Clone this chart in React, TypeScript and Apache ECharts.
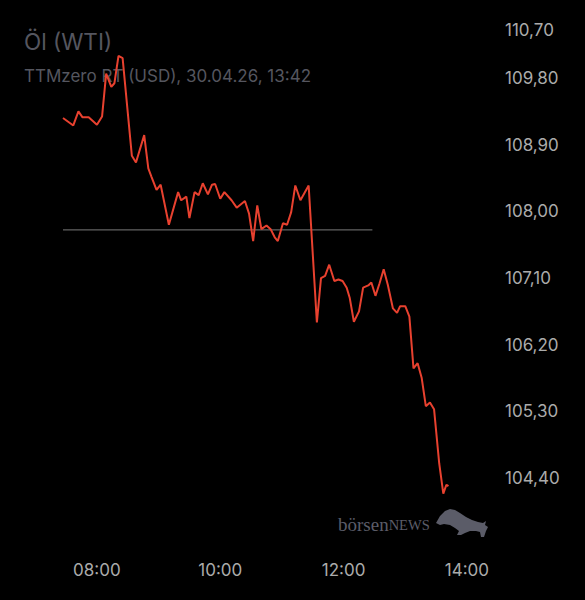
import React, { useEffect, useRef } from "react";
import * as echarts from "echarts";

const times = [
  "07:27", "07:37", "07:42", "07:46", "07:52", "08:00", "08:05", "08:09", "08:14", "08:17",
  "08:21", "08:25", "08:34", "08:38", "08:46", "08:50", "08:53", "08:58", "09:02", "09:10",
  "09:19", "09:22", "09:27", "09:30", "09:35", "09:39", "09:43", "09:48", "09:52", "09:55",
  "10:00", "10:04", "10:11", "10:16", "10:24", "10:28", "10:32", "10:36", "10:40", "10:45",
  "10:49", "10:53", "10:56", "11:01", "11:05", "11:09", "11:13", "11:18", "11:26", "11:34",
  "11:38", "11:42", "11:46", "11:51", "11:55", "11:59", "12:03", "12:06", "12:10", "12:15",
  "12:19", "12:24", "12:27", "12:31", "12:35", "12:39", "12:43", "12:48", "12:52", "12:55",
  "13:00", "13:04", "13:08", "13:12", "13:16", "13:20", "13:24", "13:28", "13:33", "13:37",
  "13:40", "13:42",
];
const prices = [
  109.26, 109.16, 109.35, 109.27, 109.27, 109.17, 109.28, 109.86, 109.68, 109.73,
  110.10, 110.07, 108.75, 108.66, 109.03, 108.58, 108.47, 108.29, 108.36, 107.82,
  108.26, 108.15, 108.20, 107.91, 108.26, 108.22, 108.38, 108.23, 108.36, 108.37,
  108.17, 108.26, 108.15, 108.05, 108.14, 107.97, 107.60, 108.08, 107.76, 107.81,
  107.76, 107.65, 107.60, 107.84, 107.82, 107.99, 108.35, 108.15, 108.35, 106.50,
  107.10, 107.13, 107.28, 107.06, 107.08, 107.06, 106.97, 106.83, 106.51, 106.65,
  106.97, 107.00, 107.04, 106.86, 107.03, 107.22, 107.01, 106.69, 106.63, 106.72,
  106.72, 106.58, 105.88, 105.95, 105.75, 105.37, 105.42, 105.33, 104.60, 104.19,
  104.31, 104.29,
];
const referencePrice = 107.75;
const referenceRange = ["07:27", "12:28"];
const xTickLabels = ["08:00", "10:00", "12:00", "14:00"];
const yTickValues = [104.4, 105.3, 106.2, 107.1, 108.0, 108.9, 109.8, 110.7];
const titleText = "Öl (WTI)";
const subtitleText = "TTMzero RT (USD), 30.04.26, 13:42";

const toMin = (s: string) => {
  const [h, m] = s.split(":").map(Number);
  return h * 60 + m;
};
const fmtTime = (v: number) => {
  const h = Math.floor(v / 60);
  const m = Math.round(v % 60);
  return String(h).padStart(2, "0") + ":" + String(m).padStart(2, "0");
};
const fmtPrice = (v: number) => v.toFixed(2).replace(".", ",");

const FONT = "Inter, 'Noto Sans', sans-serif";
const LABEL_COLOR = "#ababab";
const DIM = "#55565f";

export default function App() {
  const ref = useRef<HTMLDivElement>(null);
  useEffect(() => {
    if (!ref.current) return;
    document.body.style.margin = "0";
    document.body.style.background = "#000";
    const chart = echarts.init(ref.current, undefined, { renderer: "svg" });
    const lineData = times.map((t, i) => [toMin(t), prices[i]]);
    const refData = referenceRange.map((t) => [toMin(t), referencePrice]);
    const yMin = 103.5;
    const yMax = yTickValues[yTickValues.length - 1];
    chart.setOption({
      animation: false,
      backgroundColor: "#000000",
      textStyle: { fontFamily: FONT },
      grid: { left: 63, top: 11.4, width: 432, height: 533.3 },
      xAxis: {
        type: "value",
        min: 447,
        max: 867.3,
        axisLine: { show: false },
        axisTick: { show: false },
        splitLine: { show: false },
        axisLabel: {
          customValues: xTickLabels.map(toMin),
          formatter: (v: number) => fmtTime(v),
          color: LABEL_COLOR,
          fontSize: 17,
          margin: 17,
          fontFamily: FONT,
        },
      },
      yAxis: {
        type: "value",
        position: "right",
        min: yMin,
        max: yMax,
        interval: 0.9,
        axisLine: { show: false },
        axisTick: { show: false },
        splitLine: { show: false },
        axisLabel: {
          showMinLabel: false,
          showMaxLabel: false,
          formatter: (v: number) => fmtPrice(v),
          color: LABEL_COLOR,
          fontSize: 17,
          margin: 10,
          align: "left",
          padding: [4, 0, 0, 0],
          fontFamily: FONT,
        },
      },
      graphic: [
        {
          type: "text",
          left: 24,
          top: 30,
          z: 0,
          style: { text: titleText, fill: DIM, fontSize: 22.5, fontFamily: FONT },
        },
        {
          type: "text",
          left: 24,
          top: 67,
          z: 0,
          style: { text: subtitleText, fill: DIM, fontSize: 17, fontFamily: FONT },
        },
        {
          type: "text",
          left: 505,
          top: 21,
          style: { text: fmtPrice(yMax), fill: LABEL_COLOR, fontSize: 17, fontFamily: FONT },
        },
        {
          type: "text",
          left: 338,
          top: 515,
          style: {
            rich: {
              a: { fontFamily: "'Liberation Serif', 'DejaVu Serif', serif", fontSize: 19, fill: "#5b5c68" },
              b: { fontFamily: "'Liberation Serif', 'DejaVu Serif', serif", fontSize: 14.5, fill: "#5b5c68" },
            },
            text: "{a|börsen}{b|NEWS}",
          },
        },
        {
          type: "polygon",
          shape: {
            points: [
              [436, 523], [440, 516], [445, 511], [450, 509], [455, 510], [460, 513],
              [466, 517], [472, 520], [478, 522], [483, 523], [486, 521], [485, 525],
              [488, 527], [486, 531], [484, 537], [481, 537], [480, 532], [476, 531],
              [470, 531], [465, 533], [461, 535], [457, 535], [459, 531], [455, 528],
              [450, 525], [444, 524], [440, 525],
            ],
          },
          style: { fill: "#5b5c68" },
        },
      ],
      series: [
        {
          type: "line",
          data: refData,
          symbol: "none",
          silent: true,
          lineStyle: { color: "#7a7a7a", width: 1 },
          z: 1,
        },
        {
          type: "line",
          data: lineData,
          symbol: "none",
          lineStyle: { color: "#e8412f", width: 2 },
          z: 3,
        },
      ],
    });
    return () => chart.dispose();
  }, []);
  return <div ref={ref} style={{ position: "fixed", left: 0, top: 0, width: 585, height: 600 }} />;
}
